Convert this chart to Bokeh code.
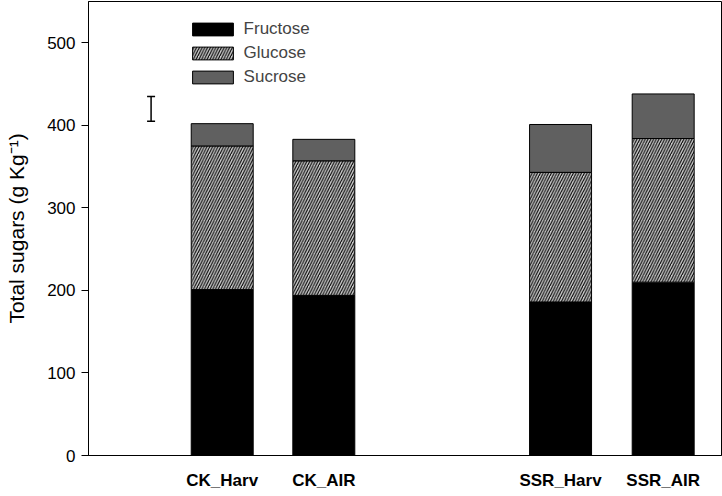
import numpy as np
from bokeh.plotting import figure
from bokeh.models import (ColumnDataSource, Legend, LegendItem, Whisker, TeeHead,
                          FixedTicker, Range1d)
from bokeh.embed import file_html
from bokeh.resources import INLINE

# ---- data ----
categories = ["CK_Harv", "CK_AIR", "SSR_Harv", "SSR_AIR"]
fructose = [201, 194, 186, 210]
glucose = [174, 163, 157, 174]
sucrose = [27, 26, 58, 54]
err_lower = [405]
err_upper = [435]
y_ticks = [0, 100, 200, 300, 400, 500]

# ---- layout (positions) ----
xpos = [1.0, 2.0, 4.33, 5.34]
err_pos = [0.3]
bar_w = 0.61

f = np.array(fructose, dtype=float)
g = np.array(glucose, dtype=float)
s = np.array(sucrose, dtype=float)

src = ColumnDataSource(dict(
    x=xpos,
    f0=np.zeros(len(f)), f1=f,
    g0=f, g1=f + g,
    s0=f + g, s1=f + g + s,
))

FONT = "Liberation Sans"

p = figure(width=722, height=493, output_backend="svg", toolbar_location=None,
           x_range=Range1d(-0.316, 5.914), y_range=Range1d(0, 550),
           min_border_left=88, min_border_right=1, min_border_top=1,
           min_border_bottom=38)
p.xgrid.visible = False
p.ygrid.visible = False
p.outline_line_color = "black"
p.outline_line_width = 1
p.background_fill_color = "white"
p.border_fill_color = "white"

rf = p.vbar(x="x", bottom="f0", top="f1", width=bar_w, source=src,
            fill_color="black", line_color="black", line_width=1)
rg = p.vbar(x="x", bottom="g0", top="g1", width=bar_w, source=src,
            fill_color="#cacaca", line_color="black", line_width=1,
            hatch_pattern="/", hatch_color="black", hatch_weight=1.1,
            hatch_scale=5.5)
rs = p.vbar(x="x", bottom="s0", top="s1", width=bar_w, source=src,
            fill_color="#606060", line_color="black", line_width=1)

esrc = ColumnDataSource(dict(base=err_pos, lower=err_lower, upper=err_upper))
wh = Whisker(base="base", lower="lower", upper="upper", source=esrc,
             dimension="height", line_color="black", line_width=1.5,
             upper_head=TeeHead(size=8, line_width=1.5, line_color="black"),
             lower_head=TeeHead(size=8, line_width=1.5, line_color="black"))
p.add_layout(wh)

# y axis
p.yaxis.ticker = FixedTicker(ticks=y_ticks)
p.yaxis.minor_tick_line_color = None
p.yaxis.major_tick_out = 7
p.yaxis.major_tick_in = 0
p.yaxis.major_label_standoff = 6
p.yaxis.major_label_text_font = FONT
p.yaxis.major_label_text_font_size = "17px"
p.yaxis.major_label_text_color = "black"
p.yaxis.axis_line_color = "black"
p.yaxis.major_tick_line_color = "black"
p.yaxis.axis_label = "Total sugars (g Kg\u207b\u00b9)"
p.yaxis.axis_label_text_font = FONT
p.yaxis.axis_label_text_font_style = "normal"
p.yaxis.axis_label_text_font_size = "21px"
p.yaxis.axis_label_text_color = "black"
p.yaxis.axis_label_standoff = 16

# x axis
p.xaxis.ticker = FixedTicker(ticks=xpos)
p.xaxis.major_label_overrides = {xv: c for xv, c in zip(xpos, categories)}
p.xaxis.minor_tick_line_color = None
p.xaxis.major_tick_line_color = None
p.xaxis.major_tick_out = 0
p.xaxis.major_tick_in = 0
p.xaxis.major_label_standoff = 15
p.xaxis.major_label_text_font = FONT
p.xaxis.major_label_text_font_style = "bold"
p.xaxis.major_label_text_font_size = "17px"
p.xaxis.major_label_text_color = "black"
p.xaxis.axis_line_color = "black"

legend = Legend(items=[
    LegendItem(label="Fructose", renderers=[rf]),
    LegendItem(label="Glucose", renderers=[rg]),
    LegendItem(label="Sucrose", renderers=[rs]),
], location=(98.6, 368), orientation="vertical",
    glyph_width=51, glyph_height=16, label_height=16, spacing=4,
    padding=0, margin=0, label_standoff=6,
    label_text_font=FONT, label_text_font_size="17px",
    border_line_color=None, background_fill_alpha=0)
p.add_layout(legend)

open("out.html", "w").write(file_html(p, INLINE))
